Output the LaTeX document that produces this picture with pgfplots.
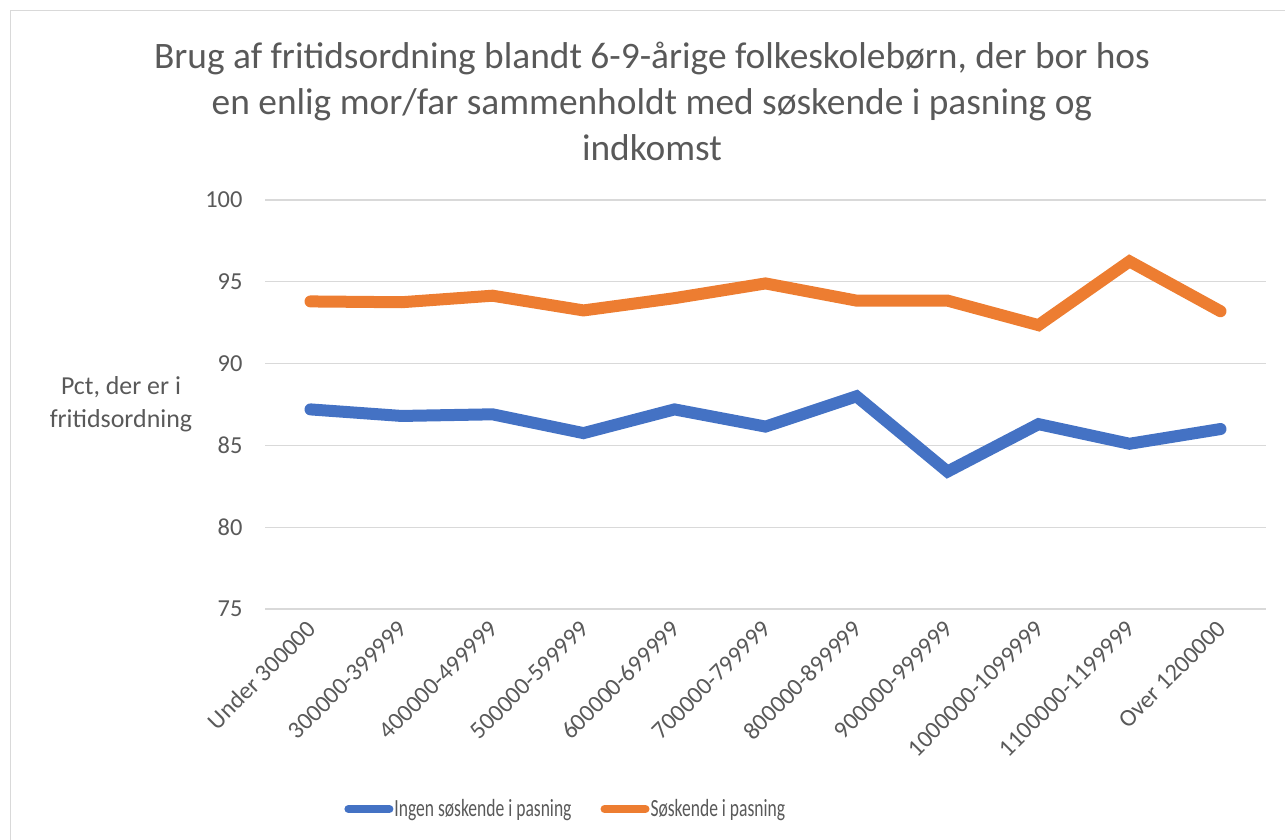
\documentclass[border=0pt]{standalone}
\usepackage{pgfplots}
\pgfplotsset{compat=1.18}
\usepackage{fontspec}
\setmainfont{Carlito}
\newfontfamily\legfont{Carlito}[FakeStretch=0.71]

\definecolor{txt}{HTML}{595959}
\definecolor{gridc}{HTML}{D9D9D9}
\definecolor{blueS}{HTML}{4472C4}
\definecolor{orangeS}{HTML}{ED7D31}

\begin{document}
\begin{tikzpicture}
\path[use as bounding box] (0,0) rectangle (1285bp,840bp);
\draw[gridc, line width=1.2bp] (10.5bp,0) -- (10.5bp,829.5bp) -- (1285bp,829.5bp);
\begin{axis}[
  at={(265bp,231bp)}, anchor=south west,
  scale only axis,
  width=1001bp, height=409bp,
  xmin=-0.5, xmax=10.5,
  ymin=75, ymax=100,
  ytick={75,80,...,100},
  xtick={0,...,10},
  xticklabels={Under 300000,300000-399999,400000-499999,500000-599999,600000-699999,700000-799999,800000-899999,900000-999999,1000000-1099999,1100000-1199999,Over 1200000},
  axis line style={draw=none},
  major tick length=0pt,
  ymajorgrids,
  grid style={gridc, line width=1.2bp},
  tick label style={text=txt, font=\fontsize{24.5}{29}\selectfont},
  /pgf/number format/assume math mode=true,
  yticklabel style={anchor=east, xshift=-19bp},
  xticklabel style={rotate=45, anchor=east, xshift=-7bp, yshift=-12bp},
  title={Brug af fritidsordning blandt 6-9-årige folkeskolebørn, der bor hos\\en enlig mor/far sammenholdt med søskende i pasning og\\indkomst},
  title style={at={(axis description cs:0.3866,1.227)}, anchor=center, align=center, text=txt, font=\fontsize{37.5}{46}\selectfont},
  ylabel={Pct, der er i\\fritidsordning},
  ylabel style={at={(axis description cs:-0.1439,0.5)}, rotate=-90, anchor=center, align=center, text=txt, font=\fontsize{26}{33}\selectfont},
  legend columns=2,
  legend style={draw=none, fill=none, at={(axis description cs:0.300,-0.489)}, anchor=center,
    font=\legfont\fontsize{24.8}{30}\selectfont, text=txt,
    nodes={inner sep=1bp},
    /tikz/every even column/.append style={column sep=28bp},
    inner sep=0pt},
  legend cell align=left,
  legend image code/.code={\draw[#1, line width=8bp, line cap=round] (4bp,0bp) -- (45bp,0bp);},
  every axis plot/.append style={line width=12bp, line cap=round, line join=miter},
]
\addplot[blueS] coordinates {
(0,87.2) (1,86.8) (2,86.9) (3,85.75) (4,87.2) (5,86.15) (6,88.0) (7,83.4) (8,86.3) (9,85.1) (10,86.0)
};
\addlegendentry{Ingen søskende i pasning}
\addplot[orangeS] coordinates {
(0,93.8) (1,93.75) (2,94.15) (3,93.25) (4,94.0) (5,94.9) (6,93.85) (7,93.85) (8,92.35) (9,96.25) (10,93.2)
};
\addlegendentry{Søskende i pasning}
\end{axis}
\end{tikzpicture}
\end{document}
